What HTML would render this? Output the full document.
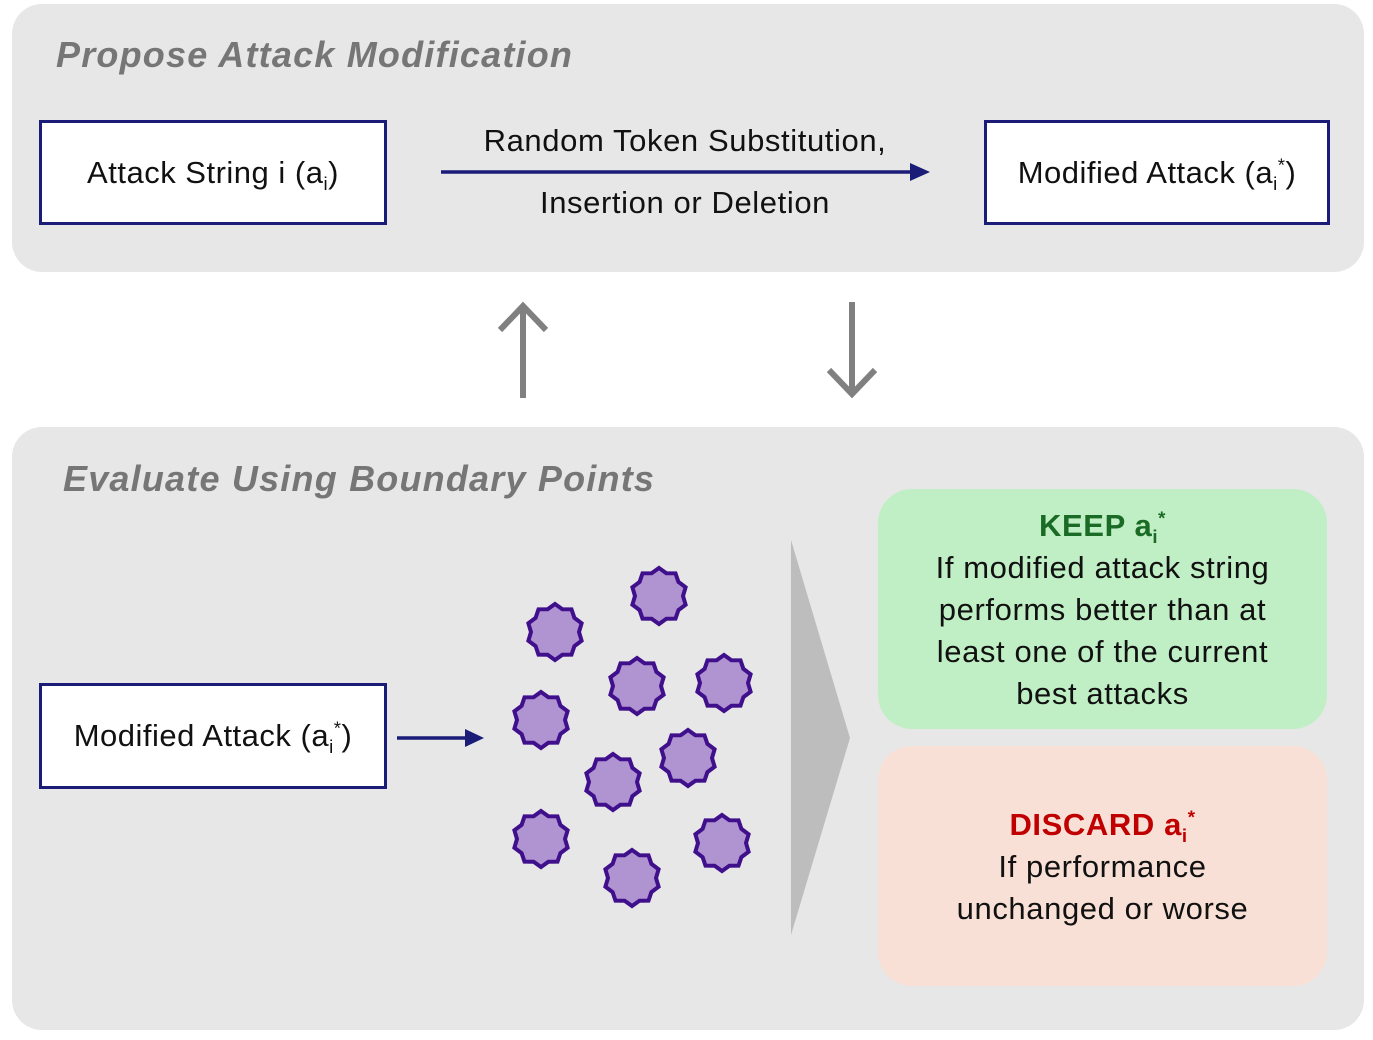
<!DOCTYPE html>
<html><head><meta charset="utf-8"><style>
body{margin:0;width:1373px;height:1040px;background:#fff;position:relative;font-family:"Liberation Sans",sans-serif;overflow:hidden}
.a{position:absolute}
.panel{background:#e7e7e7;border-radius:30px}
.title{font-size:36px;font-weight:bold;font-style:italic;color:#767676;letter-spacing:1.2px}
.box{border:3.5px solid #1b1b78;background:#fff;box-sizing:border-box;display:flex;align-items:center;justify-content:center;font-size:31px;color:#111;letter-spacing:0.5px}
.t{font-size:31px;color:#111;text-align:center;line-height:42px;letter-spacing:0.6px}
sub,sup{font-size:60%;line-height:0}
</style></head><body>
<div class="a panel" style="left:12px;top:4px;width:1352px;height:268px"></div>
<div class="a panel" style="left:12px;top:427px;width:1352px;height:603px"></div>
<div class="a title" style="left:56px;top:34px">Propose Attack Modification</div>
<div class="a title" style="left:63px;top:458px">Evaluate Using Boundary Points</div>
<div class="a box" style="left:39px;top:120px;width:348px;height:105px"><span>Attack String i (a<sub>i</sub>)</span></div>
<div class="a box" style="left:984px;top:120px;width:346px;height:105px"><span>Modified Attack (a<sub>i</sub><sup>*</sup>)</span></div>
<div class="a box" style="left:39px;top:683px;width:348px;height:106px"><span>Modified Attack (a<sub>i</sub><sup>*</sup>)</span></div>
<div class="a t" style="left:420px;top:120px;width:530px">Random Token Substitution,</div>
<div class="a t" style="left:420px;top:182px;width:530px">Insertion or Deletion</div>
<div class="a" style="left:878px;top:489px;width:449px;height:240px;background:#c1efc5;border-radius:34px"></div>
<div class="a" style="left:878px;top:746px;width:449px;height:240px;background:#f9e0d6;border-radius:34px"></div>
<div class="a t" style="left:918px;top:505px;width:369px;line-height:42px"><b style="color:#1a6b25">KEEP a<sub>i</sub><sup>*</sup></b><br>If modified attack string performs better than at least one of the current best attacks</div>
<div class="a t" style="left:878px;top:804px;width:449px;line-height:42px"><b style="color:#c00000">DISCARD a<sub>i</sub><sup>*</sup></b><br>If performance<br>unchanged or worse</div>
<svg class="a" style="left:0;top:0" width="1373" height="1040">
<defs><polygon id="s" points="0,-28 7.4,-22.8 16.5,-22.7 19.4,-14.1 26.6,-8.7 24,0 26.6,8.7 19.4,14.1 16.5,22.7 7.4,22.8 0,28 -7.4,22.8 -16.5,22.7 -19.4,14.1 -26.6,8.7 -24,0 -26.6,-8.7 -19.4,-14.1 -16.5,-22.7 -7.4,-22.8" fill="#b094d2" stroke="#3f0f8c" stroke-width="4"/></defs>
<line x1="441" y1="172" x2="915" y2="172" stroke="#1b1b78" stroke-width="3.5"/>
<polygon points="930,172 910,163 910,181" fill="#1b1b78"/>
<line x1="397" y1="738" x2="468" y2="738" stroke="#1b1b78" stroke-width="3.5"/>
<polygon points="484,738 465,729 465,747" fill="#1b1b78"/>
<g stroke="#808080" stroke-width="6" fill="none">
<line x1="523" y1="305" x2="523" y2="398"/><polyline points="500,330 523,306 546,330"/>
<line x1="852" y1="302" x2="852" y2="394"/><polyline points="829,370 852,394 875,370"/>
</g>
<polygon points="791,540 850,738 791,935" fill="#bdbdbd"/>
<use href="#s" x="659" y="596"/><use href="#s" x="555" y="632"/><use href="#s" x="637" y="686"/>
<use href="#s" x="724" y="683"/><use href="#s" x="541" y="720"/><use href="#s" x="688" y="758"/>
<use href="#s" x="613" y="782"/><use href="#s" x="541" y="839"/><use href="#s" x="722" y="843"/>
<use href="#s" x="632" y="878"/>
</svg>
</body></html>
